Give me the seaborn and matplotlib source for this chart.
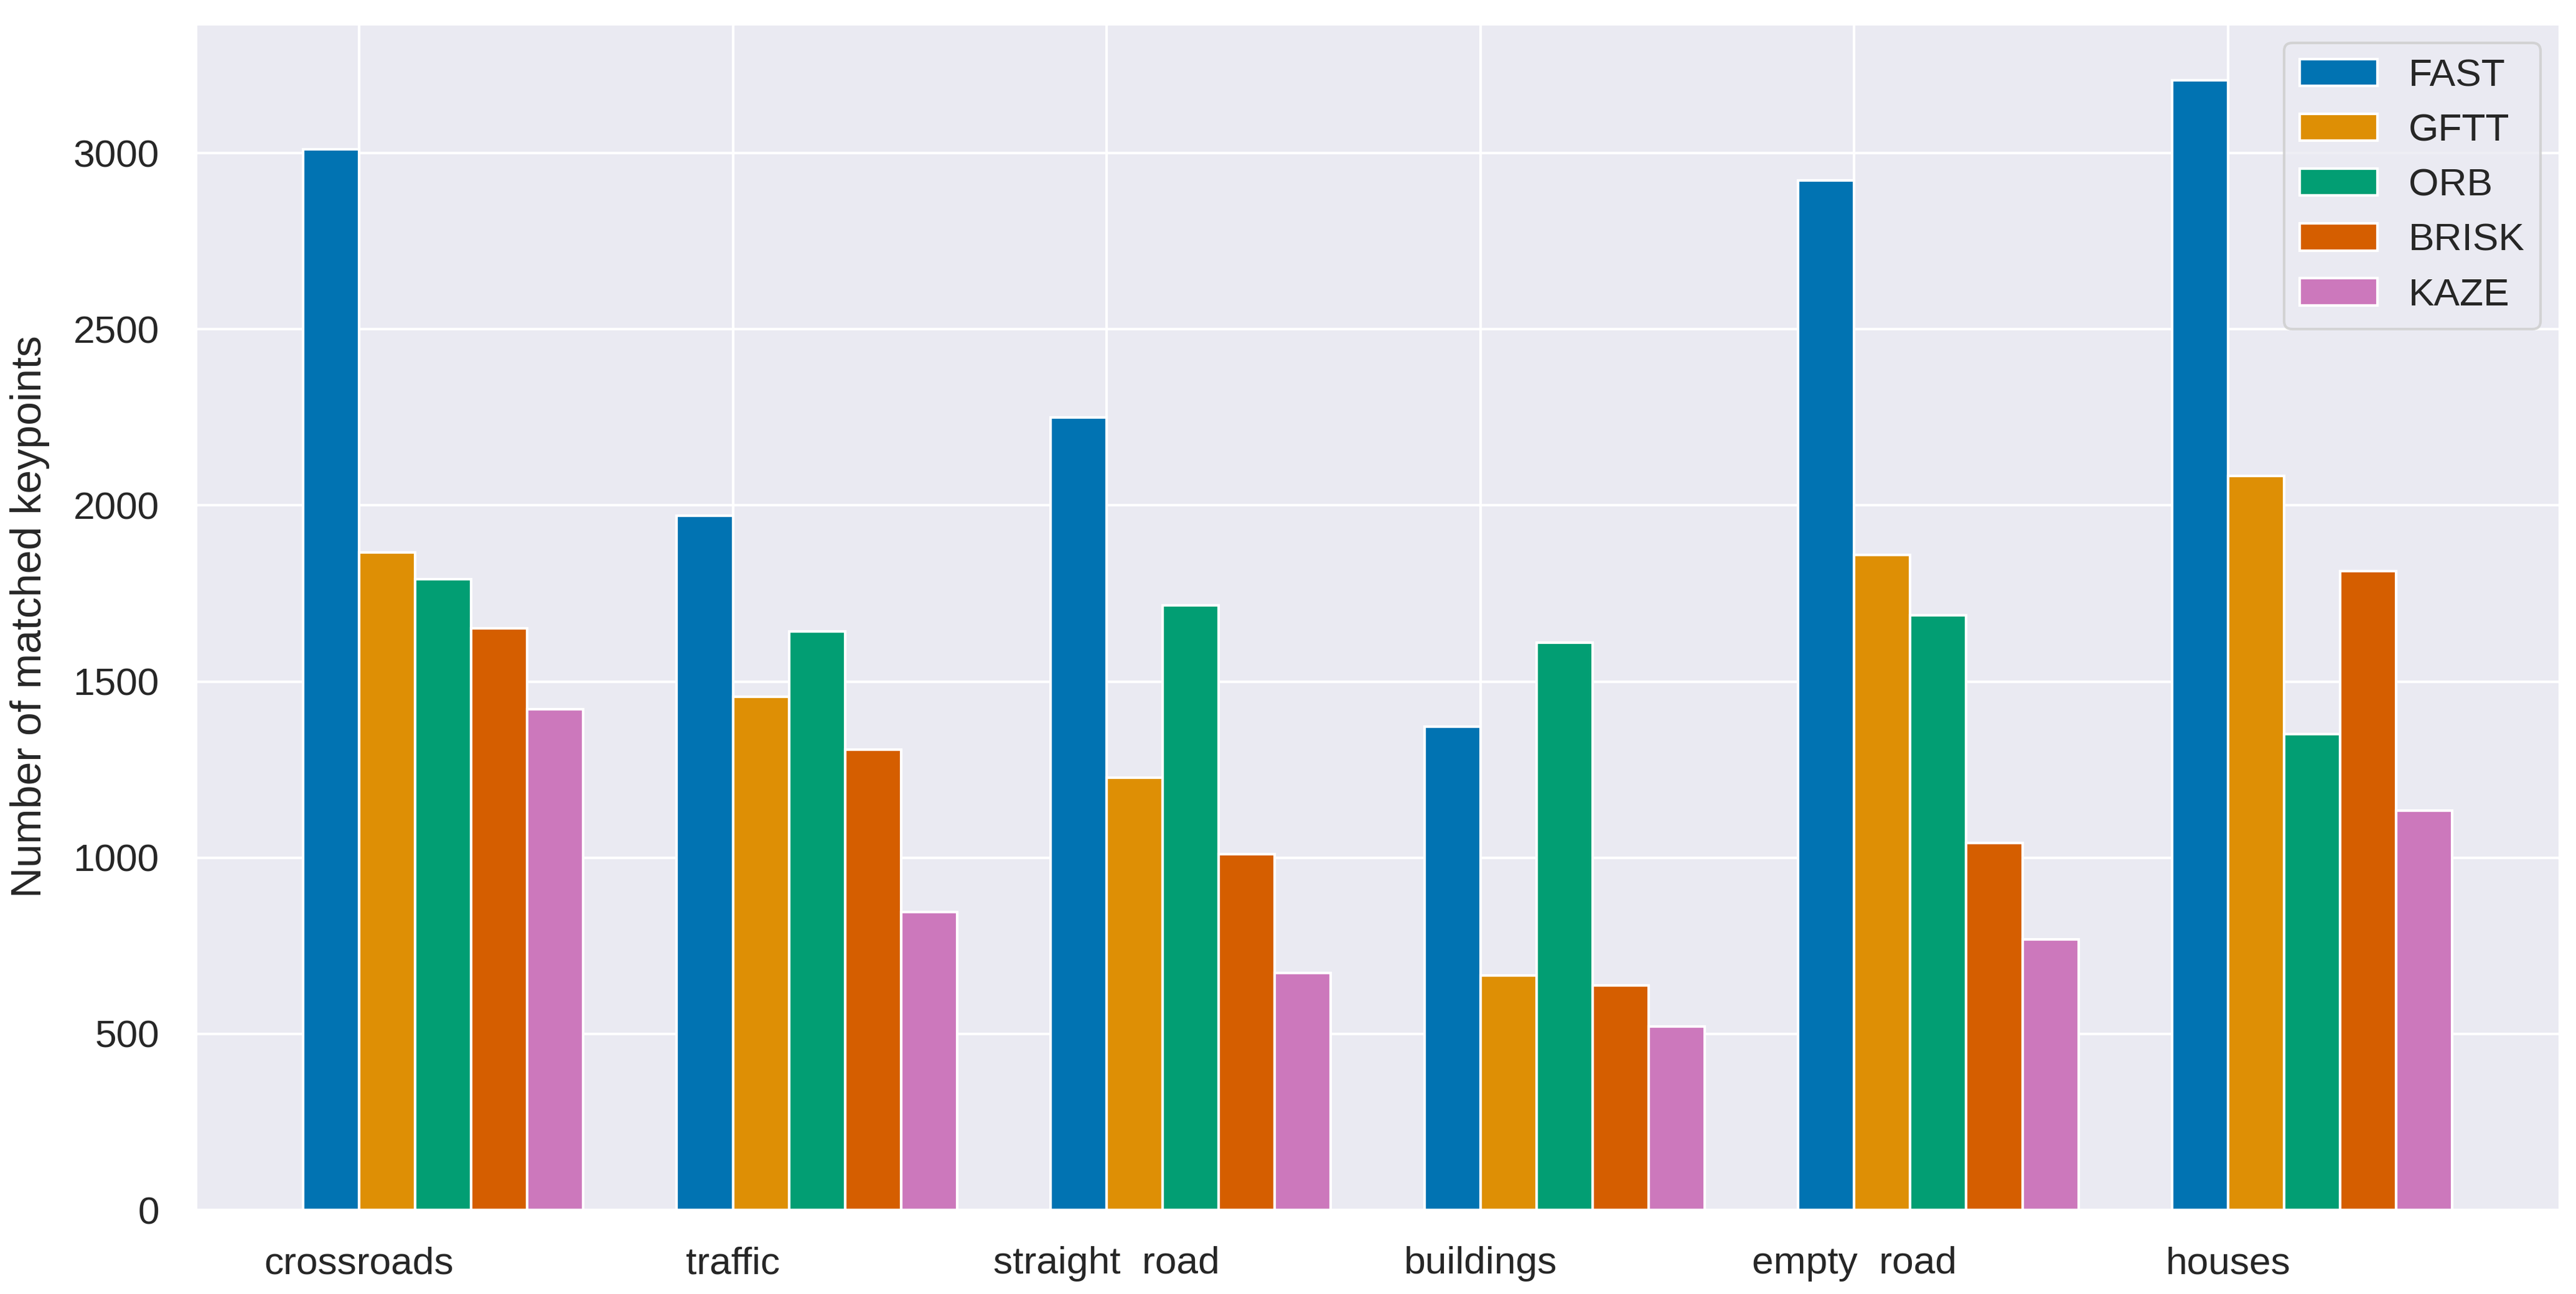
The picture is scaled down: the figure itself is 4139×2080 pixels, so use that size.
import numpy as np
import pandas as pd
import matplotlib
matplotlib.use("Agg")
import matplotlib.pyplot as plt
import seaborn as sns

scenes = ["crossroads", "traffic", "straight  road", "buildings", "empty  road", "houses"]
methods = ["FAST", "GFTT", "ORB", "BRISK", "KAZE"]
fast = [3010, 1970, 2250, 1372, 2922, 3207]
gftt = [1866, 1457, 1228, 665, 1860, 2084]
orb = [1790, 1643, 1717, 1610, 1688, 1350]
brisk = [1651, 1307, 1010, 638, 1042, 1813]
kaze = [1422, 846, 673, 521, 768, 1134]
colors = ["#0173b2", "#de8f05", "#029e73", "#d55e00", "#cc78bc"]

bar_w = 0.15
series = [fast, gftt, orb, brisk, kaze]
rows = []
for mi, (m, vals) in enumerate(zip(methods, series)):
    for si, v in enumerate(vals):
        rows.append({"pos": round(si + (mi - 0.5) * bar_w, 4), "method": m, "value": v})
df = pd.DataFrame(rows)

sns.set_theme(style="darkgrid", font_scale=1.36)
plt.rcParams["font.family"] = ["Liberation Sans", "DejaVu Sans"]
plt.rcParams["xtick.major.pad"] = 8
plt.rcParams["ytick.major.pad"] = 8

fig = plt.figure(figsize=(4139 / 300, 2080 / 300), dpi=300)
ax = fig.add_axes([0.0759, 0.0649, 0.9937 - 0.0759, 0.9817 - 0.0649])
sns.barplot(data=df, x="pos", y="value", hue="method", hue_order=methods,
            palette=colors, native_scale=True, dodge=False, width=1.0,
            saturation=1, ax=ax)
ax.set_xticks(np.arange(len(scenes)))
ax.set_xticklabels(scenes)
ax.set_xlabel("")
ax.set_ylabel("Number of matched keypoints", labelpad=9)
sns.move_legend(ax, "upper right", title=None)
fig.savefig("out.png", dpi=300)
